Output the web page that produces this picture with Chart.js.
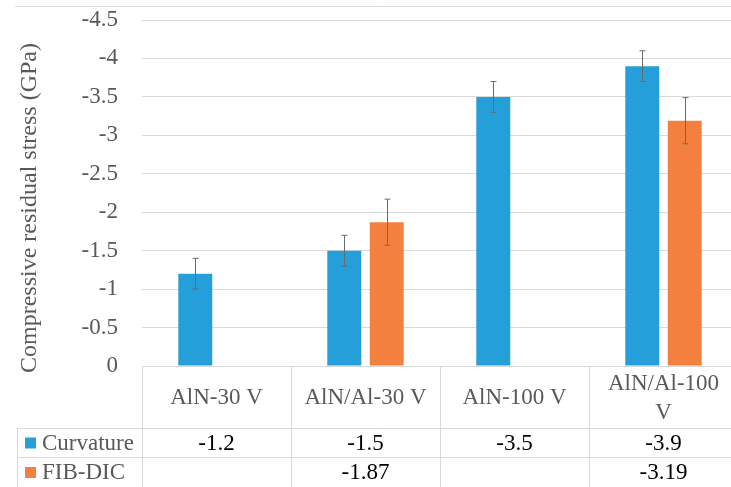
<!DOCTYPE html>
<html>
<head>
<meta charset="utf-8">
<script src="https://cdn.jsdelivr.net/npm/chart.js@4"></script>
<style>
  html, body { margin: 0; padding: 0; background: #fff; overflow: hidden; }
  #wrap { width: 738px; height: 487px; }
</style>
</head>
<body>
<div id="wrap"><canvas id="chart" width="738" height="487"></canvas></div>
<script>
// chart data
const categories = [['AlN-30 V'], ['AlN/Al-30 V'], ['AlN-100 V'], ['AlN/Al-100', 'V']];
const curvature = [-1.2, -1.5, -3.5, -3.9];
const curvatureErr = [0.2, 0.2, 0.2, 0.2];
const fibDic = [null, -1.87, null, -3.19];
const fibDicErr = [null, 0.3, null, 0.3];
const yTicks = ['0', '-0.5', '-1', '-1.5', '-2', '-2.5', '-3', '-3.5', '-4', '-4.5'];

const FONT = "'Liberation Serif', 'Times New Roman', serif";
const SIZE = 23;
const GREY = '#595959';
const LINE = '#D9D9D9';

// error bars drawn from the y scale
const errorBars = {
    id: 'errorBars',
    afterDatasetsDraw(chart) {
        const ctx = chart.ctx;
        const y = chart.scales.y;
        const errs = [curvatureErr, fibDicErr];
        ctx.save();
        ctx.strokeStyle = '#6b6b6b';
        ctx.lineWidth = 1;
        chart.data.datasets.forEach((ds, i) => {
            const meta = chart.getDatasetMeta(i);
            ds.data.forEach((v, j) => {
                if (v === null || errs[i][j] === null) return;
                const x = Math.round(meta.data[j].x) + 0.5;
                const y1 = y.getPixelForValue(v - errs[i][j]);
                const y2 = y.getPixelForValue(v + errs[i][j]);
                ctx.beginPath();
                ctx.moveTo(x, y1); ctx.lineTo(x, y2);
                ctx.moveTo(x - 3, y1); ctx.lineTo(x + 3, y1);
                ctx.moveTo(x - 3, y2); ctx.lineTo(x + 3, y2);
                ctx.stroke();
            });
        });
        ctx.restore();
    }
};

// Excel style data table under the plot, plus the axis title
const dataTable = {
    id: 'dataTable',
    afterDraw(chart) {
        const ctx = chart.ctx;
        const area = chart.chartArea;
        const xs = chart.scales.x;
        const w = (area.right - area.left) / categories.length;
        const top = area.bottom;
        const row1 = top + 62, row2 = row1 + 29, bottom = chart.height;
        const leftEdge = 17;
        ctx.save();
        ctx.strokeStyle = LINE;
        ctx.lineWidth = 1;
        ctx.beginPath();
        // outer border top
        ctx.moveTo(15, 6.5); ctx.lineTo(chart.width, 6.5);
        ctx.moveTo(area.left, top + 0.5); ctx.lineTo(area.right, top + 0.5);
        ctx.moveTo(leftEdge, row1 + 0.5); ctx.lineTo(area.right, row1 + 0.5);
        ctx.moveTo(leftEdge, row2 + 0.5); ctx.lineTo(area.right, row2 + 0.5);
        ctx.moveTo(leftEdge + 0.5, row1); ctx.lineTo(leftEdge + 0.5, bottom);
        for (let i = 0; i < categories.length; i++) {
            const xl = Math.round(area.left + i * w) + 0.5;
            ctx.moveTo(xl, top); ctx.lineTo(xl, bottom);
        }
        ctx.stroke();

        ctx.font = SIZE + 'px ' + FONT;
        ctx.textAlign = 'center';
        ctx.textBaseline = 'middle';
        categories.forEach((lines, i) => {
            const cx = xs.getPixelForValue(i);
            ctx.fillStyle = GREY;
            const cy = (top + row1) / 2 + 1;
            lines.forEach((t, k) => {
                ctx.fillText(t, cx, cy + (k - (lines.length - 1) / 2) * 29);
            });
            ctx.fillStyle = '#000';
            if (curvature[i] !== null) ctx.fillText(String(curvature[i]), cx, (row1 + row2) / 2 + 1);
            if (fibDic[i] !== null) ctx.fillText(String(fibDic[i]), cx, (row2 + bottom) / 2 + 1);
        });

        // legend keys in the table
        ctx.textAlign = 'left';
        ctx.fillStyle = chart.data.datasets[0].backgroundColor;
        ctx.fillRect(25, (row1 + row2) / 2 - 5, 11, 11);
        ctx.fillStyle = chart.data.datasets[1].backgroundColor;
        ctx.fillRect(25, (row2 + bottom) / 2 - 5, 11, 11);
        ctx.fillStyle = GREY;
        ctx.fillText(chart.data.datasets[0].label, 42, (row1 + row2) / 2 + 1);
        ctx.fillText(chart.data.datasets[1].label, 42, (row2 + bottom) / 2 + 1);

        // y axis title
        ctx.font = '24px ' + FONT;
        ctx.translate(30, 208);
        ctx.rotate(-Math.PI / 2);
        ctx.textAlign = 'center';
        ctx.fillText('Compressive residual stress (GPa)', 0, 0);
        ctx.restore();
    }
};

new Chart(document.getElementById('chart'), {
    type: 'bar',
    data: {
        labels: categories,
        datasets: [
            {
                label: 'Curvature',
                data: curvature,
                backgroundColor: '#259FD9'
            },
            {
                label: 'FIB-DIC',
                data: fibDic,
                backgroundColor: '#F4803F'
            }
        ]
    },
    options: {
        responsive: false,
        devicePixelRatio: 1,
        animation: false,
        categoryPercentage: 0.57,
        barPercentage: 0.8,
        layout: { padding: { top: 20, bottom: 121, left: 0, right: 0 } },
        plugins: {
            legend: { display: false },
            tooltip: { enabled: false }
        },
        scales: {
            x: { display: false },
            y: {
                reverse: true,
                min: -4.5,
                max: 0,
                ticks: {
                    stepSize: 0.5,
                    padding: 24,
                    color: GREY,
                    font: { family: FONT, size: SIZE },
                    callback: (v, i) => yTicks[i]
                },
                grid: { color: LINE, drawTicks: false },
                border: { display: false },
                // fixed axis width, no extra room kept for the end labels
                afterFit: s => { s.width = 142; s.paddingTop = 0; s.paddingBottom = 0; }
            }
        }
    },
    plugins: [errorBars, dataTable]
});
</script>
</body>
</html>
